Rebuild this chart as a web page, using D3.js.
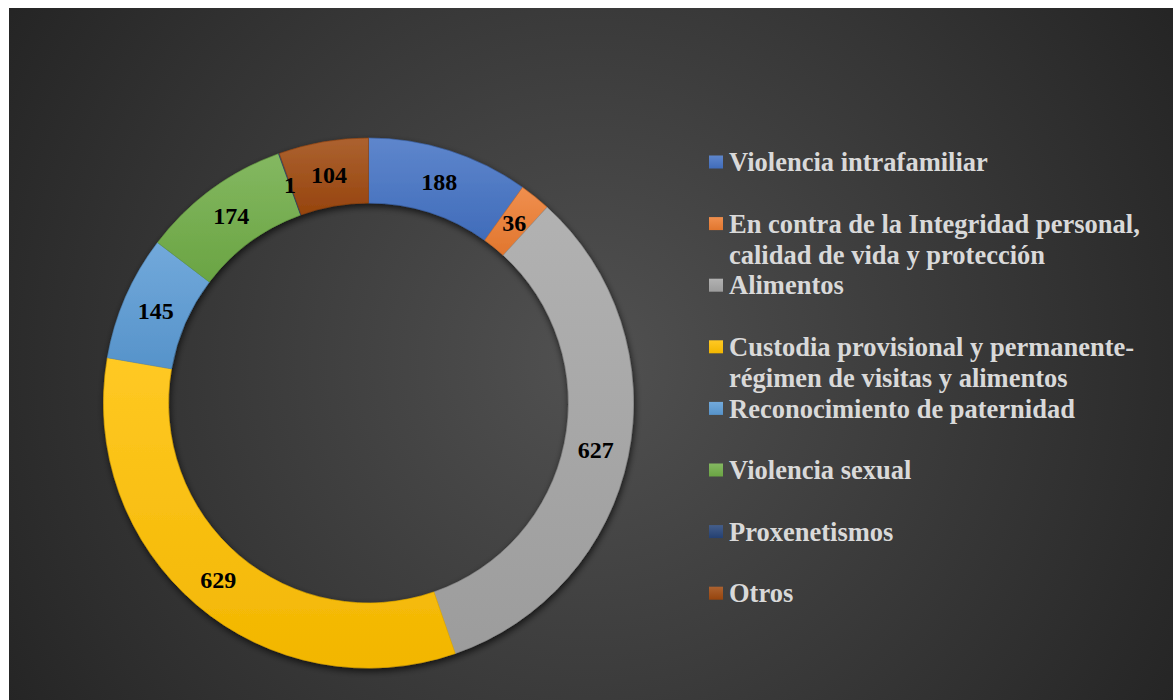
<!DOCTYPE html>
<html><head><meta charset="utf-8">
<script src="https://cdn.jsdelivr.net/npm/d3@7"></script>
<style>body{margin:0;background:#fff}svg{display:block}</style>
</head><body>
<svg id="c" width="1173" height="700"></svg>
<script>
const categories = [
  "Violencia intrafamiliar",
  "En contra de la Integridad personal, calidad de vida y protección",
  "Alimentos",
  "Custodia provisional y permanente-régimen de visitas y alimentos",
  "Reconocimiento de paternidad",
  "Violencia sexual",
  "Proxenetismos",
  "Otros"
];
const legendLines = [
  ["Violencia intrafamiliar"],
  ["En contra de la Integridad personal,", "calidad de vida y protección"],
  ["Alimentos"],
  ["Custodia provisional y permanente-", "régimen de visitas y alimentos"],
  ["Reconocimiento de paternidad"],
  ["Violencia sexual"],
  ["Proxenetismos"],
  ["Otros"]
];
const values = [188, 36, 627, 629, 145, 174, 1, 104];
const colors = ["#4472C4", "#ED7D31", "#A5A5A5", "#FFC000", "#5B9BD5", "#70AD47", "#264478", "#9E480E"];

const svg = d3.select("#c");
const defs = svg.append("defs");

const bg = defs.append("radialGradient").attr("id","bg")
  .attr("gradientUnits","userSpaceOnUse").attr("cx",590).attr("cy",360).attr("r",690);
bg.append("stop").attr("offset",0).attr("stop-color","#515151");
bg.append("stop").attr("offset",1).attr("stop-color","#242424");

svg.append("rect").attr("x",9).attr("y",8).attr("width",1164).attr("height",692).attr("fill","url(#bg)");

const f = defs.append("filter").attr("id","sh").attr("x","-20%").attr("y","-20%").attr("width","140%").attr("height","140%");
f.append("feGaussianBlur").attr("in","SourceAlpha").attr("stdDeviation",3.5).attr("result","b");
f.append("feOffset").attr("in","b").attr("dx",1).attr("dy",3).attr("result","o");
f.append("feComponentTransfer").attr("in","o").attr("result","o2")
  .append("feFuncA").attr("type","linear").attr("slope",0.7);
const m = f.append("feMerge");
m.append("feMergeNode").attr("in","o2");
m.append("feMergeNode").attr("in","SourceGraphic");

colors.forEach((c,i)=>{
  const g = defs.append("linearGradient").attr("id","g"+i).attr("x1",0).attr("y1",0).attr("x2",0).attr("y2",1);
  g.append("stop").attr("offset",0).attr("stop-color", d3.interpolateRgb(c,"#ffffff")(0.14));
  g.append("stop").attr("offset",1).attr("stop-color", d3.color(c).darker(0.15));
});

const data = categories.map((c,i)=>({cat:c, value:values[i], i}));
const cx = 368.5, cy = 403, rOuter = 265, rInner = 200;
const pie = d3.pie().sort(null).value(d=>d.value).startAngle(0).endAngle(2*Math.PI);
const arcs = pie(data);
const arc = d3.arc().innerRadius(rInner).outerRadius(rOuter);
const labelArc = d3.arc().innerRadius(232).outerRadius(232);

const gP = svg.append("g").attr("transform",`translate(${cx},${cy})`);
gP.append("g").attr("filter","url(#sh)").selectAll("path").data(arcs).join("path")
  .attr("d",arc)
  .attr("fill",d=>`url(#g${d.data.i})`)
  .attr("stroke",d=>d3.color(colors[d.data.i]).darker(0.3))
  .attr("stroke-width",0.6);

gP.selectAll("text").data(arcs).join("text")
  .attr("transform",d=>`translate(${labelArc.centroid(d)})`)
  .attr("text-anchor","middle").attr("dy","0.35em")
  .attr("font-family","'Liberation Serif','Times New Roman',serif")
  .attr("font-weight","bold").attr("font-size",24).attr("fill","#000")
  .text(d=>d.data.value);

const lg = svg.append("g");
const slot = 61.6, y0 = 162, lineH = 30.8;
legendLines.forEach((lines,i)=>{
  const y = y0 + i*slot;
  lg.append("rect").attr("x",709).attr("y",y-6.5).attr("width",14).attr("height",13)
    .attr("fill",`url(#g${i})`);
  const t = lg.append("text").attr("x",729).attr("y",y).attr("dy","0.35em")
    .attr("font-family","'Liberation Serif','Times New Roman',serif")
    .attr("font-weight","bold").attr("font-size",26.5).attr("fill","#d9d9d9");
  lines.forEach((ln,j)=>{
    t.append("tspan").attr("x",729).attr("y",y + j*lineH).attr("dy","0.35em").text(ln);
  });
});
</script>
</body></html>
